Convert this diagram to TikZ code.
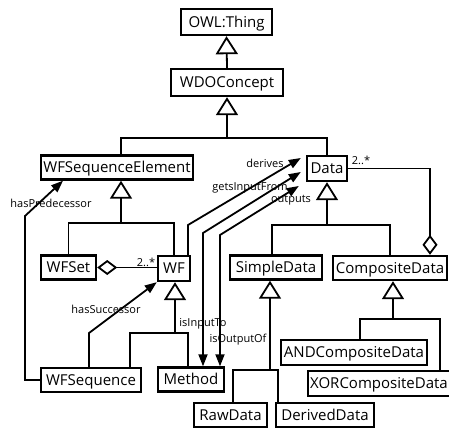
\documentclass[tikz,border=0pt]{standalone}
\usepackage{fontspec}
\setmainfont{Open Sans}
\usetikzlibrary{arrows.meta}
\begin{document}
\begin{tikzpicture}[x=1pt,y=-1pt,
  box/.style={draw, line width=2.4pt, inner sep=0pt, font=\fontsize{15}{15}\selectfont,
    minimum height=24pt, text height=10.5pt, text depth=0pt, anchor=center},
  conn/.style={line width=1.8pt},
  gen/.style={conn, -{Triangle[open, length=18pt, width=22pt, line width=1.8pt]}},
  assoc/.style={conn, -{Triangle[length=12pt, width=9pt]}},
  dassoc/.style={conn, {Triangle[length=12pt, width=9pt]}-{Triangle[length=12pt, width=9pt]}},
  agg/.style={conn, {Diamond[open, length=20pt, width=15pt, line width=1.8pt]}-},
  lbl/.style={font=\fontsize{11}{11}\selectfont, inner sep=0pt},
]
\useasboundingbox (0,0) rectangle (449,430);
% classes
\node[box, minimum width=91pt, minimum height=26pt] (owl) at (226.5,22) {OWL:Thing};
\node[box, minimum width=112pt, minimum height=27pt] (wdo) at (227,82.5) {WDOConcept};
\node[box, minimum width=152pt] (wfse) at (117,167.5) {WFSequenceElement};
\node[box, minimum width=40pt, minimum height=25pt] (data) at (327,168.5) {Data};
\node[box, minimum width=55pt] (wfset) at (68.5,267.5) {WFSet};
\node[box, minimum width=32pt, minimum height=25pt] (wf) at (174,268.5) {WF};
\node[box, minimum width=92pt] (simple) at (276,267.5) {SimpleData};
\node[box, minimum width=114pt] (composite) at (390,268) {CompositeData};
\node[box, minimum width=100pt] (wfseq) at (91,380) {WFSequence};
\node[box, minimum width=66pt] (method) at (191,379.5) {Method};
\node[box, minimum width=146pt, minimum height=25pt] (and) at (354,352.5) {ANDCompositeData};
\node[box, minimum width=142pt, minimum height=25pt] (xor) at (379,383.5) {XORCompositeData};
\node[box, minimum width=73pt] (raw) at (230.5,415) {RawData};
\node[box, minimum width=98pt] (derived) at (325,415) {DerivedData};
% junctions
\coordinate (j0) at (227,138);
\coordinate (j2) at (121,223);
\coordinate (j3) at (175,333);
\coordinate (b3l) at (130,333);
\coordinate (b3r) at (188,333);
\coordinate (j4) at (327,225);
\coordinate (b4l) at (272,225);
\coordinate (j5) at (270,370);
\coordinate (b5l) at (233,370);
\coordinate (b5r) at (278,370);
\coordinate (j6) at (393,319);
\coordinate (b6l) at (360,319);
\coordinate (b6r) at (440,319);
% generalisations
\draw[gen] (wdo.north) -- (owl.south);
\draw[gen] (j0) -- (wdo.south);
\draw[conn] (j2 |- wfse.north) |- (j0) -| (data.north);
\draw[gen] (j2) -- (j2 |- wfse.south);
\draw[conn] (wfset.north) |- (j2) -| (wf.north);
\draw[gen] (j3) -- (j3 |- wf.south);
\draw[conn] (b3l |- wfseq.north) -- (b3l) -- (b3r) -- (b3r |- method.north);
\draw[gen] (j4) -- (data.south);
\draw[conn] (b4l |- simple.north) -- (b4l) -| (composite.north);
\draw[gen] (j5) -- (j5 |- simple.south);
\draw[conn] (b5l |- raw.north) -- (b5l) -- (b5r) -- (b5r |- derived.north);
\draw[gen] (j6) -- (j6 |- composite.south);
\draw[conn] (b6l |- and.north) -- (b6l) -- (b6r) -- (b6r |- xor.north);
% aggregations
\draw[agg] (wfset.east) -- (wf.west |- wfset.east);
\node[lbl] (m1) at (146,262) {2..*};
\coordinate (c7) at (430,168.5);
\draw[agg] (c7 |- composite.north) -- (c7 |- data.east) -- (data.east);
\node[lbl] (m2) at (361,160) {2..*};
% associations
\coordinate (dtip1) at ([shift={(-5,-10.5)}]data.west);
\coordinate (dtip2) at ([shift={(-5,3.5)}]data.west);
\coordinate (dtip3) at ([shift={(-7,17.5)}]data.west);
\coordinate (d1) at (188,225);
\coordinate (d2) at (203,233);
\coordinate (d3) at (220,235);
\draw[assoc] (d1 |- wf.north) -- (d1) -- (dtip1);
\draw[dassoc] (d2 |- method.north) -- (d2) -- (dtip2);
\draw[dassoc] (d3 |- method.north) -- (d3) -- (dtip3);
\coordinate (s1) at (89,333);
\draw[assoc] (s1 |- wfseq.north) -- (s1) -- (wf.south west);
\coordinate (p1) at (25,216);
\draw[assoc] (wfseq.west) -| (p1) -- ([xshift=-54pt]wfse.south);
% labels
\node[lbl] (l1) at (265,163) {derives};
\node[lbl] (l2) at (250,188) {getsInputFrom};
\node[lbl] (l3) at (291,200) {outputs};
\node[lbl] (l4) at (203,324) {isInputTo};
\node[lbl] (l5) at (238,340) {isOutputOf};
\node[lbl] (l6) at (106,309) {hasSuccessor};
\node[lbl] (l7) at (51,203) {hasPredecessor};
\end{tikzpicture}
\end{document}
